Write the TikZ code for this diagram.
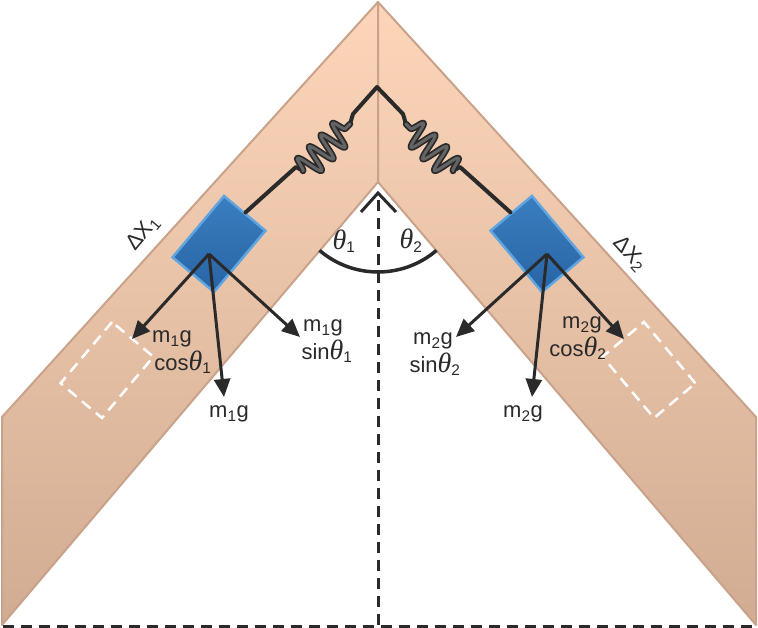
\documentclass[tikz,border=0pt]{standalone}
\usepackage{fontspec}
\setmainfont{Liberation Sans}
\newfontfamily\greekfont{Liberation Serif}
\usepackage{tikz}
\usetikzlibrary{shapes,positioning,calc}
\usetikzlibrary{arrows.meta}
\usetikzlibrary{decorations.pathmorphing}
\definecolor{armtop}{RGB}{253,214,186}
\definecolor{armbottom}{RGB}{209,172,146}
\definecolor{armedge}{RGB}{200,162,138}
\definecolor{blocktop}{RGB}{58,126,191}
\definecolor{blockbottom}{RGB}{40,100,165}
\definecolor{blockedge}{RGB}{96,164,224}
\definecolor{ink}{RGB}{42,42,42}
\definecolor{coilgray}{RGB}{100,100,100}
\tikzstyle{force} = [ink,line width=3pt,-{Triangle[length=18pt,width=16pt]}]
\tikzstyle{dashline} = [ink,line width=3pt,dash pattern=on 11pt off 7pt]
\newcommand{\thetasub}[1]{{\greekfont\itshape\fontsize{28}{28}\selectfont θ}\textsubscript{#1}}

\begin{document}
\begin{tikzpicture}[x=1pt,y=-1pt,
	arm/.style={draw=armedge, line width=2pt, line join=round, top color=armtop, bottom color=armbottom},
	blockbox/.style={rectangle, draw=blockedge, line width=2.5pt, top color=blocktop, bottom color=blockbottom, minimum width=80pt, minimum height=54pt, inner sep=0pt},
	ghostbox/.style={rectangle, draw=white, line width=2.5pt, dash pattern=on 11pt off 7pt, minimum width=80pt, minimum height=54pt, inner sep=0pt},
	txt/.style={text=ink, font=\fontsize{22}{24}\selectfont, inner sep=0pt},
	wire/.style={ink, line width=4pt, line join=round, line cap=round},
	springcoil/.style={decorate, decoration={snake, amplitude=13pt, segment length=16.5pt, #1}, line cap=round, line join=round},
	springcoil/.default={}]
	\useasboundingbox (0,0) rectangle (758,628);
	
	% INCLINES
	
	\path[arm] (378,2) -- (2,417) -- (2,625) -- (378,182) -- cycle;
	\path[arm] (378,2) -- (756,417) -- (756,625) -- (378,182) -- cycle;
	\coordinate (apexin) at (378,182);
	
	\draw[dashline] (378,200) -- (378,628);
	\draw[dashline] (3,626) -- (758,626);
	
	% ANGLES
	
	\draw[ink, line width=3pt] (361,212) -- (378,193) -- (396,212);
	\draw[ink, line width=3.5pt] ($(apexin)+(130.5:90)$) arc[start angle=130.5, end angle=49.5, radius=90];
	\node[txt] (th1) at (344,241) {\thetasub{1}};
	\node[txt] (th2) at (411,241) {\thetasub{2}};
	
	% MASSES
	
	\node[blockbox, rotate=50] (blk1) at (219,244) {};
	\node[blockbox, rotate=-50] (blk2) at (537,244) {};
	\node[ghostbox, rotate=50] (gst1) at (107,370) {};
	\node[ghostbox, rotate=-50] (gst2) at (649,370) {};
	
	% SPRING
	
	\coordinate (sptop) at (377,87);
	\coordinate (sp1a) at (296,167);
	\coordinate (sp1b) at (303,171);
	\coordinate (sp1c) at (350,124);
	\coordinate (sp1d) at (353,114);
	\coordinate (sp2a) at (460,167);
	\coordinate (sp2b) at (453,171);
	\coordinate (sp2c) at (406,124);
	\coordinate (sp2d) at (403,114);
	
	\draw[wire] (blk1.east) -- (sp1a) -- (sp1b);
	\draw[wire] (sp1c) -- (sp1d) -- (sptop) -- (sp2d) -- (sp2c);
	\draw[wire] (blk2.west) -- (sp2a) -- (sp2b);
	\draw[ink, line width=6.5pt, springcoil] (sp1b) -- (sp1c);
	\draw[coilgray, line width=3pt, springcoil] (sp1b) -- (sp1c);
	\draw[ink, line width=6.5pt, springcoil=mirror] (sp2b) -- (sp2c);
	\draw[coilgray, line width=3pt, springcoil=mirror] (sp2b) -- (sp2c);
	
	% FORCES
	
	\coordinate (o1) at (209,254);
	\coordinate (c1) at (132,339);
	\coordinate (g1) at (224,397);
	\coordinate (s1) at (300,337);
	\coordinate (o2) at (547,254);
	\coordinate (c2) at (624,339);
	\coordinate (g2) at (532,397);
	\coordinate (s2) at (456,337);
	
	\draw[force] (o1) -- (c1);
	\draw[force] (o1) -- (g1);
	\draw[force] (o1) -- (s1);
	\draw[force] (o2) -- (c2);
	\draw[force] (o2) -- (g2);
	\draw[force] (o2) -- (s2);
	
	% LABELS
	
	\node[txt] (lc1) at (172,339) {m\textsubscript{1}g};
	\node[txt, below=3pt of lc1, xshift=11pt] (lc1b) {cos\thetasub{1}};
	\node[txt] (ls1) at (323,328) {m\textsubscript{1}g};
	\node[txt, below=3pt of ls1, xshift=4pt] (ls1b) {sin\thetasub{1}};
	\node[txt] (lg1) at (229,414) {m\textsubscript{1}g};
	\node[txt] (lc2) at (582,325) {m\textsubscript{2}g};
	\node[txt, below=3pt of lc2, xshift=-4pt] (lc2b) {cos\thetasub{2}};
	\node[txt] (ls2) at (433,341) {m\textsubscript{2}g};
	\node[txt, below=3pt of ls2, xshift=2pt] (ls2b) {sin\thetasub{2}};
	\node[txt] (lg2) at (523,414) {m\textsubscript{2}g};
	
	\node[txt, rotate=50] (dx1) at (143,233) {ΔX\textsubscript{1}};
	\node[txt, rotate=-48] (dx2) at (630,254) {ΔX\textsubscript{2}};
	
\end{tikzpicture}
\end{document}
